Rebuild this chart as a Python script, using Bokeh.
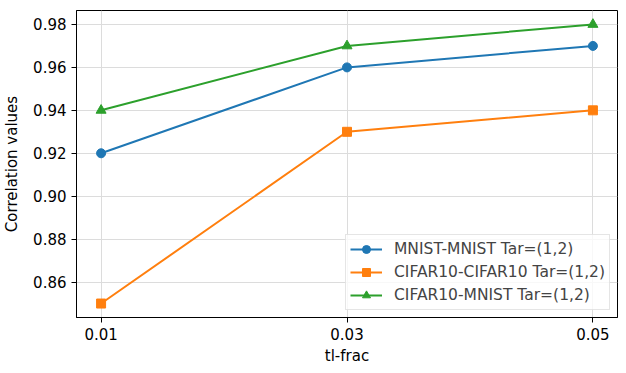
from bokeh.plotting import figure
from bokeh.models import FixedTicker, Range1d, Legend, LegendItem
from bokeh.embed import file_html
from bokeh.resources import INLINE

x_labels = ["0.01", "0.03", "0.05"]
x_pos = [0, 1, 2]
mnist_mnist = [0.92, 0.96, 0.97]
cifar_cifar = [0.85, 0.93, 0.94]
cifar_mnist = [0.94, 0.97, 0.98]
y_ticks = [0.86, 0.88, 0.90, 0.92, 0.94, 0.96, 0.98]
names = ["MNIST-MNIST Tar=(1,2)", "CIFAR10-CIFAR10 Tar=(1,2)", "CIFAR10-MNIST Tar=(1,2)"]
colors = ["#1f77b4", "#ff7f0e", "#2ca02c"]

p = figure(width=618, height=367, output_backend="svg", toolbar_location=None,
           x_range=Range1d(-0.1, 2.1), y_range=Range1d(0.8435, 0.9865),
           min_border_left=11, min_border_right=1, min_border_top=10, min_border_bottom=6)
p.outline_line_color = "black"
p.outline_line_width = 1

FONT = "DejaVu Sans"
for ax in (p.xaxis[0], p.yaxis[0]):
    ax.major_label_text_font = FONT
    ax.major_label_text_font_size = "15px"
    ax.major_label_text_color = "black"
    ax.axis_label_text_font = FONT
    ax.axis_label_text_font_size = "15px"
    ax.axis_label_text_font_style = "normal"
    ax.axis_label_text_color = "black"
    ax.minor_tick_line_color = None
    ax.major_tick_in = 0
    ax.major_tick_out = 5
    ax.axis_line_color = "black"

p.xaxis.ticker = FixedTicker(ticks=x_pos)
p.xaxis.major_label_overrides = {i: l for i, l in zip(x_pos, x_labels)}
p.xaxis.axis_label = "tl-frac"
p.xaxis.axis_label_standoff = 4
p.yaxis.ticker = FixedTicker(ticks=y_ticks)
p.yaxis.major_label_overrides = {t: f"{t:.2f}" for t in y_ticks}
p.yaxis.axis_label = "Correlation values"
p.yaxis.axis_label_standoff = 9

p.xgrid.grid_line_color = "#dcdcdc"
p.ygrid.grid_line_color = "#dcdcdc"
p.xgrid.ticker = FixedTicker(ticks=x_pos)
p.ygrid.ticker = FixedTicker(ticks=y_ticks)

items = []
series = [mnist_mnist, cifar_cifar, cifar_mnist]
for i, (ys, c, n) in enumerate(zip(series, colors, names)):
    r1 = p.line(x_pos, ys, line_color=c, line_width=2)
    if i == 0:
        r2 = p.scatter(x_pos, ys, marker="circle", size=9, color=c)
    elif i == 1:
        r2 = p.scatter(x_pos, ys, marker="square", size=9, color=c)
    else:
        r2 = p.scatter(x_pos, ys, marker="triangle", size=10, color=c)
    items.append(LegendItem(label=n, renderers=[r1, r2]))

legend = Legend(items=items, location="bottom_right", margin=7,
                label_text_font=FONT, label_text_font_size="15.5px",
                border_line_color="#cccccc", border_line_width=1,
                background_fill_alpha=0.8, padding=4, spacing=3,
                glyph_width=32, glyph_height=20, label_standoff=12,
                label_height=18)
p.add_layout(legend, "center")

open("out.html", "w").write(file_html(p, INLINE))
